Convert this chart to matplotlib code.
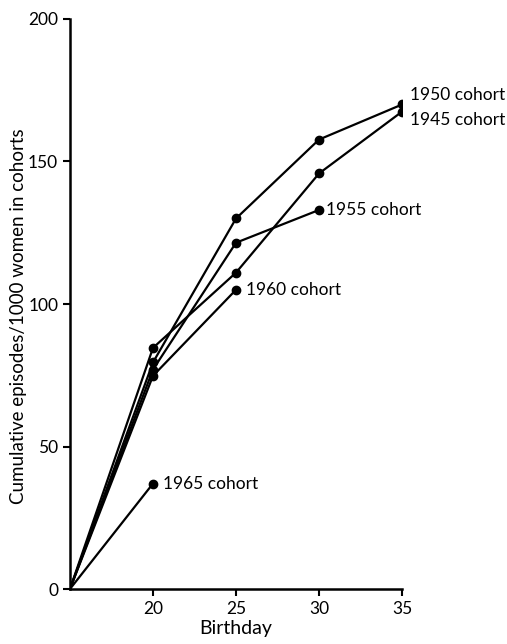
import matplotlib
matplotlib.use("Agg")
import matplotlib.pyplot as plt

ages = [15, 20, 25, 30, 35]
cohort_names = ["1945 cohort", "1950 cohort", "1955 cohort", "1960 cohort", "1965 cohort"]
c1945 = [0, 84.6, 111, 145.8, 167.5]
c1950 = [0, 79.5, 130, 157.7, 170]
c1955 = [0, 77, 121.5, 133]
c1960 = [0, 74.8, 105]
c1965 = [0, 37]
series = [c1945, c1950, c1955, c1960, c1965]
label_offsets = [(6, -6), (6, 7), (5, 0), (7, 0), (7, 0)]

x_ticks = [20, 25, 30, 35]
y_ticks = [0, 50, 100, 150, 200]

plt.rcParams['font.family'] = ['Lato', 'DejaVu Sans']
fig = plt.figure(figsize=(5.07, 6.44), dpi=100)
ax = fig.add_axes([0.138, 0.0854, 0.655, 0.8851])

for vals, name, off in zip(series, cohort_names, label_offsets):
    xs = ages[:len(vals)]
    ax.plot(xs, vals, color='black', lw=1.6, solid_joinstyle='miter')
    ax.plot(xs[1:], vals[1:], 'o', color='black', ms=6)
    ax.annotate(name, (xs[-1], vals[-1]), xytext=off, textcoords='offset points',
                ha='left', va='center', fontsize=12.5)

ax.set_xlim(15, 35)
ax.set_ylim(0, 200)
ax.set_xticks(x_ticks)
ax.set_yticks(y_ticks)
ax.tick_params(labelsize=12.5, width=1.5, length=5, direction='out')
for s in ['top', 'right']:
    ax.spines[s].set_visible(False)
for s in ['left', 'bottom']:
    ax.spines[s].set_linewidth(1.8)
ax.set_xlabel("Birthday", fontsize=14, labelpad=2)
fig.text(19 / 507, 1 - 316 / 644, "Cumulative episodes/1000 women in cohorts",
         rotation=90, ha='center', va='center', fontsize=13.5)

fig.savefig("out.png", dpi=100)
